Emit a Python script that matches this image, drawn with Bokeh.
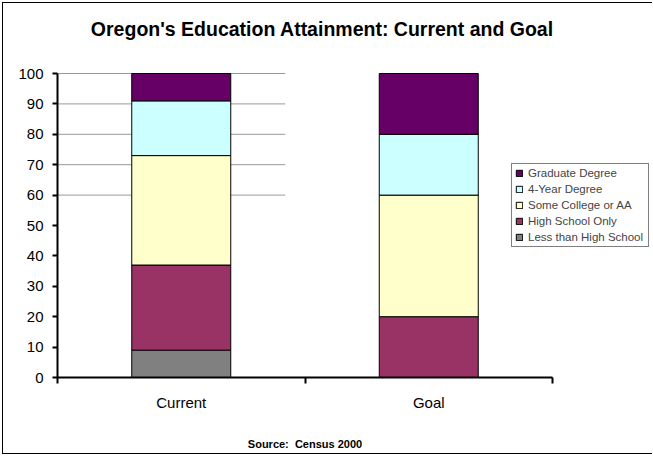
from bokeh.plotting import figure
from bokeh.models import (ColumnDataSource, FixedTicker, Legend, LegendItem, Label,
                          LinearAxis)
from bokeh.embed import file_html
from bokeh.resources import INLINE

categories = ["Current", "Goal"]
series = ["Less than High School", "High School Only", "Some College or AA",
          "4-Year Degree", "Graduate Degree"]
less_than_hs = [9, 0]
high_school = [28, 20]
some_college = [36, 40]
four_year = [18, 20]
graduate = [9, 20]
colors = ["#808080", "#993366", "#FFFFCC", "#CCFFFF", "#660066"]
y_ticks = [0, 10, 20, 30, 40, 50, 60, 70, 80, 90, 100]
grid_values = [60, 70, 80, 90, 100]
source_note = "Source:\u00a0\u00a0Census 2000"

FONT = "Liberation Sans"

x_pos = [i + 0.5 for i in range(len(categories))]
source = ColumnDataSource(dict(
    x=x_pos,
    s0=less_than_hs, s1=high_school, s2=some_college, s3=four_year, s4=graduate,
))

W, H = 650, 452
left, bottom = 54, 78
px_per_x = 247.5
px_per_y = 3.04
x_end = (W - left) / px_per_x
y_end = 100 + (H - bottom - 100 * px_per_y) / px_per_y

p = figure(width=W, height=H, x_range=(0, x_end), y_range=(0, y_end),
           output_backend="svg", toolbar_location=None,
           min_border_left=left, min_border_right=0, min_border_top=0,
           min_border_bottom=bottom)
p.margin = (2, 0, 0, 2)
p.styles = {"border-left": "1px solid black", "border-top": "1px solid black",
            "border-bottom": "1px solid black"}
p.outline_line_color = None
p.xgrid.visible = False
p.ygrid.visible = False
p.background_fill_color = "white"
p.border_fill_color = "white"

# partial gridlines as in the reference
p.segment(x0=[0] * len(grid_values), x1=[0.92] * len(grid_values),
          y0=grid_values, y1=grid_values, line_color="#999999", line_width=1)

stackers = ["s0", "s1", "s2", "s3", "s4"]
rs = p.vbar_stack(stackers, x="x", width=0.4, color=colors, source=source,
                  line_color="black", line_width=1)

# axes
p.yaxis.bounds = (0, 100)
p.yaxis.ticker = FixedTicker(ticks=y_ticks)
p.yaxis.axis_line_width = 2
p.yaxis.major_tick_line_width = 2
p.yaxis.major_tick_out = 5
p.yaxis.major_tick_in = 0
p.yaxis.minor_tick_line_color = None
p.yaxis.major_label_standoff = 9
p.yaxis.major_label_text_font = FONT
p.yaxis.major_label_text_font_size = "15px"
p.yaxis.major_label_text_color = "black"

p.xaxis.bounds = (0, 2)
p.xaxis.ticker = FixedTicker(ticks=x_pos, minor_ticks=[0, 1, 2])
p.xaxis.major_label_overrides = {x: c for x, c in zip(x_pos, categories)}
p.xaxis.axis_line_width = 2
p.xaxis.major_tick_line_color = None
p.xaxis.minor_tick_line_width = 2
p.xaxis.minor_tick_out = 6
p.xaxis.minor_tick_in = 0
p.xaxis.major_label_standoff = 10
p.xaxis.major_label_text_font = FONT
p.xaxis.major_label_text_font_size = "15px"
p.xaxis.major_label_text_color = "black"

# source note: a label-only axis below the category axis, centred on the plot area
note_axis = LinearAxis(bounds=(0, 2), ticker=FixedTicker(ticks=[1.0], minor_ticks=[]),
                       major_label_overrides={1.0: source_note},
                       axis_line_color=None, major_tick_line_color=None,
                       minor_tick_line_color=None, major_tick_out=0, major_tick_in=0,
                       major_label_standoff=24,
                       major_label_text_font=FONT, major_label_text_font_style="bold",
                       major_label_text_font_size="11px", major_label_text_color="black")
p.add_layout(note_axis, "below")

# legend (top series first)
items = [LegendItem(label=series[i], renderers=[rs[i]]) for i in reversed(range(len(series)))]
legend = Legend(items=items, location=(454, 130), padding=3, spacing=4,
                label_height=12, label_width=117, glyph_height=8, glyph_width=8,
                label_standoff=5,
                label_text_font=FONT, label_text_font_size="11.5px",
                border_line_color="black", border_line_width=1,
                background_fill_color="white", background_fill_alpha=1,
                margin=0)
p.add_layout(legend, "center")

# title
p.add_layout(Label(x=1.07, y=100 + 45 / px_per_y,
                   text="Oregon's Education Attainment: Current and Goal",
                   text_font=FONT, text_font_style="bold", text_font_size="19.5px",
                   text_align="center", text_baseline="middle", text_color="black"))

open("out.html", "w").write(file_html(p, INLINE))
